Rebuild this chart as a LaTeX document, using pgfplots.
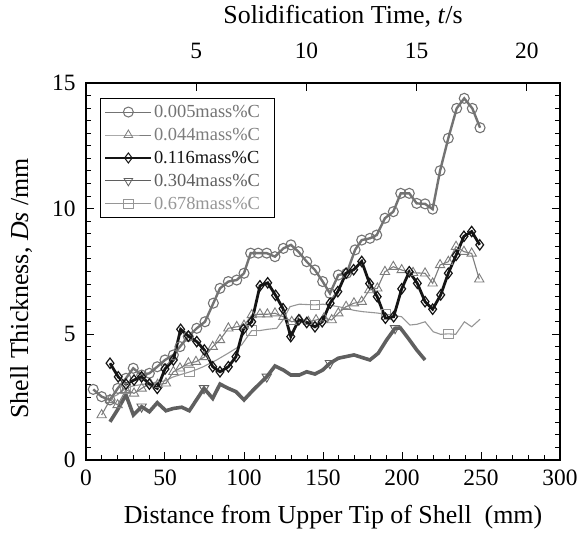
\documentclass[border=0pt]{standalone}
\usepackage{fontspec}
\setmainfont{Liberation Serif}
\usepackage{pgfplots}
\pgfplotsset{compat=1.18}
\definecolor{cA}{RGB}{115,115,115}
\definecolor{cB}{RGB}{125,125,125}
\definecolor{cC}{RGB}{20,20,20}
\definecolor{cD}{RGB}{95,95,95}
\definecolor{cE}{RGB}{150,150,150}
\begin{document}
\begin{tikzpicture}
\begin{axis}[
  scale only axis, width=474bp, height=377bp,
  xmin=0, xmax=300, ymin=0, ymax=15,
  xtick={0,50,...,300}, minor x tick num=4,
  ytick={0,5,10,15}, minor y tick num=9,
  xtick pos=left, ytick pos=both,
  tick align=inside,
  major tick length=8bp, minor tick length=5bp,
  every tick/.style={black, line width=1bp},
  axis line style={line width=1.2bp},
  /pgf/number format/assume math mode=true,
  ticklabel style={font=\fontsize{23.5}{26}\selectfont},
  xticklabel style={yshift=-6bp},
  yticklabel style={xshift=-7bp},
  xlabel={Distance from Upper Tip of Shell\ \ (mm)},
  ylabel={Shell Thickness, \textit{Ds} /mm},
  label style={font=\fontsize{26}{28}\selectfont},
  xlabel style={yshift=-13bp, xshift=10bp},
  ylabel style={at={(ticklabel cs:0.455)}, yshift=13bp},
  legend cell align=left,
  legend style={at={(0.03,0.96)}, anchor=north west, draw=black, line width=1bp,
    font=\fontsize{18.5}{20}\selectfont, inner xsep=4bp, inner ysep=2bp, row sep=0bp,
    nodes={inner ysep=4.6bp}},
  legend image code/.code={\draw[mark repeat=2,mark phase=2] plot coordinates {(0bp,0bp)(23bp,0bp)(46bp,0bp)};},
]
\coordinate (SW) at (rel axis cs:0,0);
\coordinate (NE) at (rel axis cs:1,1);
% legend images
\addlegendimage{cA, line width=1bp, mark=o, mark size=5bp, mark options={fill=white, line width=1bp}}
\addlegendentry{\textcolor{cA}{0.005mass\%C}\hspace*{9bp}\null}
\addlegendimage{cB, line width=0.8bp, mark=triangle, mark size=5bp, mark options={fill=white, line width=0.8bp}}
\addlegendentry{\textcolor{cB}{0.044mass\%C}\hspace*{9bp}\null}
\addlegendimage{cC, line width=1.3bp, mark=diamond, mark size=5bp, mark options={fill=white, line width=1bp}}
\addlegendentry{\textcolor{cC}{0.116mass\%C}\hspace*{9bp}\null}
\addlegendimage{cD, line width=1bp, mark=triangle, mark size=5bp, mark options={fill=white, line width=0.8bp, rotate=180}}
\addlegendentry{\textcolor{cD}{0.304mass\%C}\hspace*{9bp}\null}
\addlegendimage{cE, line width=0.8bp, mark=square, mark size=4.8bp, mark options={fill=white, line width=0.8bp}}
\addlegendentry{\textcolor{cE}{0.678mass\%C}\hspace*{9bp}\null}

% 0.678 mass%C
\addplot[forget plot, cE, line width=1.1bp, mark=square, mark size=4.8bp,
  mark options={fill=white, line width=0.9bp}, mark indices={3,11,17,24,30,37}] coordinates {
(15,2.45)(20,2.6)(25,2.85)(30,2.95)(35,3.0)(40,3.05)(45,3.1)(50,3.15)(55,3.3)(60,3.4)
(65.4,3.5)(70,3.6)(74.2,3.71)(82.7,3.98)(90,4.25)(98.5,4.58)(104.9,5.15)(110,5.15)
(115,5.2)(120.7,5.24)(125,5.6)(129.1,6.1)(135,6.2)(144.9,6.17)(150,6.2)(160,6.1)
(170,5.95)(175.5,5.9)(184,5.85)(189.9,5.8)(199.8,5.7)(205,5.37)(209.5,5.4)(214.6,5.5)
(219.8,5.1)(224.5,5.0)(229.3,5.02)(234,5.0)(239.5,5.5)(244.1,5.3)(249.4,5.6)};

% 0.304 mass%C
\addplot[forget plot, cD, line width=3.6bp, mark=triangle, mark size=5.4bp,
  mark options={fill=white, line width=0.9bp, rotate=180}, mark indices={5,12,19,27,33}] coordinates {
(15.2,1.52)(20,2.0)(25.3,2.59)(30,1.79)(35.2,2.12)(40.1,1.92)(45.1,2.28)(50.6,1.96)
(55.3,2.05)(60.6,2.1)(65.4,1.96)(74.7,2.85)(80.2,2.45)(84.8,3.02)(90.1,2.85)(94.9,2.72)
(100,2.39)(105.9,2.79)(114.4,3.31)(119.6,3.74)(124.9,3.58)(129.7,3.38)(135,3.38)
(139.7,3.51)(144.9,3.42)(149.8,3.58)(154.4,3.85)(159.7,4.05)(169.6,4.18)(179.7,3.98)
(185,4.25)(190.3,4.78)(195.6,5.24)(199,5.25)(204,4.84)(209.3,4.38)(214.6,3.98)};

% 0.044 mass%C
\addplot[forget plot, cB, line width=1.1bp, mark=triangle, mark size=5.4bp,
  mark options={fill=white, line width=0.9bp}] coordinates {
(9.9,1.79)(15.2,2.39)(20,2.19)(25.3,2.79)(30.4,2.65)(35.2,2.85)(40.5,3.05)(45.3,3.0)
(50.6,3.05)(55.3,3.51)(59.5,3.65)(64.8,3.85)(69.6,3.91)(75,4.1)(80.2,4.51)(84.8,4.78)
(90.1,5.24)(95.4,5.3)(100,5.35)(104.9,5.77)(110.1,5.8)(114.8,5.8)(119.6,5.84)(124.9,5.7)
(130.2,5.5)(135.4,5.57)(140.7,5.5)(145.6,5.57)(150.6,5.64)(155.5,5.57)(159.7,5.84)
(164.6,6.1)(169.6,6.24)(174.5,6.3)(179.3,6.76)(184.4,6.83)(189.2,7.49)(194.5,7.69)
(199.8,7.56)(207,7.45)(214.6,7.43)(219.4,7.03)(224.1,7.76)(229.3,7.89)(234.2,8.49)
(239.2,8.29)(244.1,8.22)(248.9,7.19)};

% 0.005 mass%C
\addplot[forget plot, cA, line width=2.4bp, mark=o, mark size=5bp,
  mark options={fill=white, line width=1.1bp}] coordinates {
(4.6,2.81)(9.9,2.52)(15.2,2.39)(20.1,2.85)(25.3,3.25)(29.9,3.65)(35.3,3.38)(40.1,3.45)
(45.1,3.71)(50,3.98)(55.3,4.18)(59.5,4.51)(64.7,4.91)(70.1,5.24)(75.3,5.5)(80.6,6.24)
(84.8,6.83)(90.1,7.1)(95.4,7.16)(100,7.43)(104.2,8.23)(109,8.23)(114.4,8.23)(119.6,8.09)
(124.9,8.42)(129.7,8.56)(134.4,8.29)(139.7,7.89)(144.9,7.56)(149.8,7.1)(154.4,6.63)
(159.7,7.36)(165,7.43)(170.3,8.36)(174.5,8.75)(179.7,8.82)(184,8.95)(189.2,9.62)
(194.5,9.88)(199.2,10.61)(204.6,10.61)(209.3,10.21)(214.6,10.19)(219.4,9.98)
(224.1,11.51)(229.3,12.8)(234.6,13.99)(239.4,14.39)(244.5,13.99)(249.4,13.22)};

% 0.116 mass%C
\addplot[forget plot, cC, line width=2.8bp, mark=diamond, mark size=5.2bp,
  mark options={fill=white, line width=1.2bp}] coordinates {
(15.2,3.85)(20.4,3.31)(25.3,3.02)(30.4,3.18)(35.2,3.31)(40.1,3.02)(45.1,2.85)(50,3.62)
(55.3,3.98)(59.9,5.2)(64.8,4.93)(70.1,4.71)(74.9,4.38)(80.2,3.71)(84.8,3.51)(90.1,3.71)
(94.9,4.11)(99.6,5.2)(104.9,5.5)(110.1,6.93)(115,7.05)(120,6.55)(124.7,6.02)(129.6,4.91)
(134.7,5.58)(139.7,5.47)(144.9,5.3)(149.5,5.5)(154.5,6.24)(159.4,6.7)(164.6,7.43)
(169.4,7.57)(174.5,7.9)(179.5,7.02)(184.3,6.5)(189.5,5.64)(194.7,5.7)(199.8,6.81)
(204.6,7.49)(209.7,7.03)(214.6,6.3)(219.4,6.0)(224.5,6.57)(229.3,7.43)(234.2,8.14)
(239.2,8.9)(244.1,9.09)(249.2,8.56)};
\end{axis}
\begin{axis}[
  scale only axis, width=474bp, height=377bp,
  xmin=0, xmax=21.5, ymin=0, ymax=15,
  hide y axis,
  xtick={5,10,15,20}, xtick pos=right, xticklabel pos=right,
  tick align=inside, major tick length=8bp,
  every tick/.style={black, line width=1bp},
  axis line style={line width=1.2bp},
  /pgf/number format/assume math mode=true,
  ticklabel style={font=\fontsize{23.5}{26}\selectfont},
  xticklabel style={yshift=21bp},
  xlabel={Solidification Time, \textit{t}/s},
  label style={font=\fontsize{26}{28}\selectfont},
  xlabel style={yshift=8bp, xshift=20bp},
]
\addplot[draw=none, forget plot] coordinates {(0,0)(21.5,15)};
\end{axis}
\pgfresetboundingbox
\path[use as bounding box] ([shift={(-86bp,-77bp)}]SW) rectangle ([shift={(18bp,83bp)}]NE);
\end{tikzpicture}
\end{document}
